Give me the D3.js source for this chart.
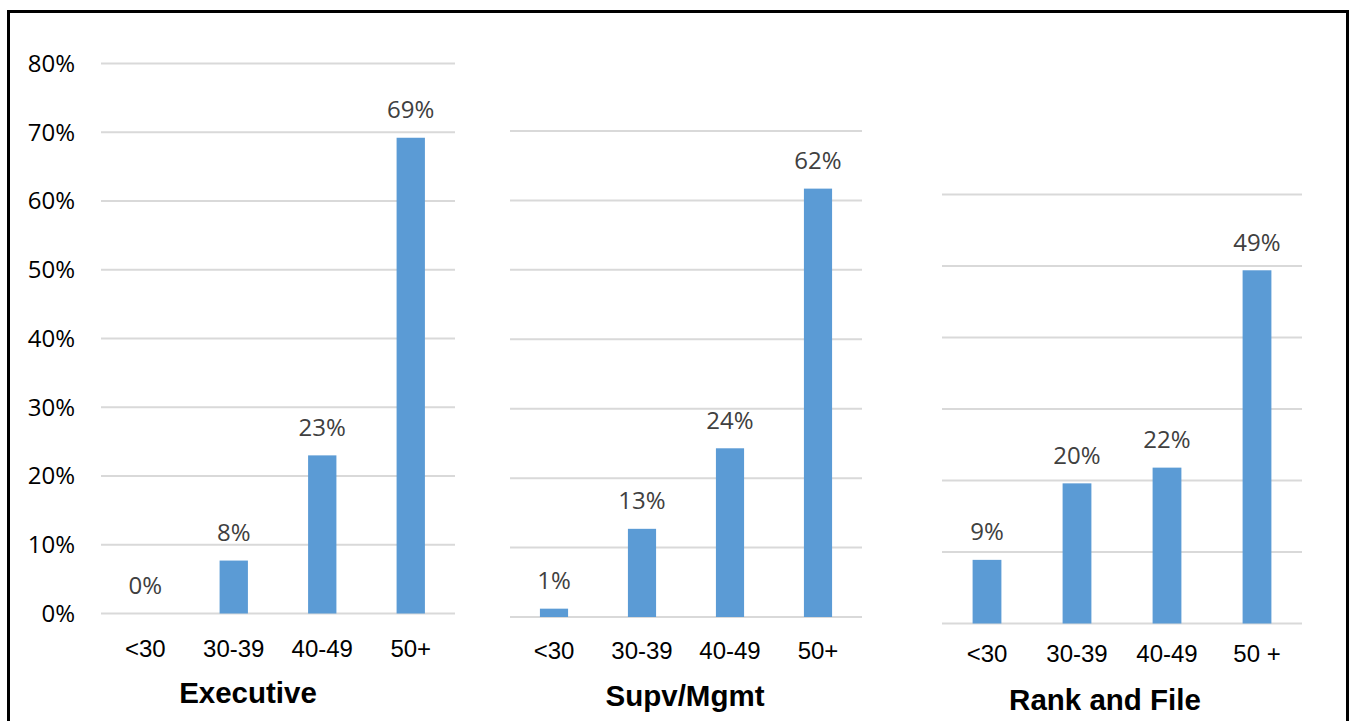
<!DOCTYPE html>
<meta charset="utf-8">
<style>
body { margin: 0; background: #fff; }
.grid line { stroke: #d9d9d9; stroke-width: 2px; }
.bar { fill: #5b9bd5; }
.val { fill: #404040; font-family: "Open Sans", sans-serif; font-size: 24px; }
.ytick { fill: #000; font-family: "Open Sans", sans-serif; font-size: 24px; }
.cat { fill: #000; font-family: "Liberation Sans", Arial, sans-serif; font-size: 24px; }
.title { fill: #000; font-family: "Liberation Sans", Arial, sans-serif; font-size: 29.5px; font-weight: bold; }
</style>
<svg width="1350" height="721"></svg>
<script src="https://d3js.org/d3.v7.min.js"></script>
<script>
var svg = d3.select("svg");

// data
var titles = ["Executive", "Supv/Mgmt", "Rank and File"];
var categories = [
  ["<30", "30-39", "40-49", "50+"],
  ["<30", "30-39", "40-49", "50+"],
  ["<30", "30-39", "40-49", "50 +"]
];
var executive = [0.000, 0.077, 0.230, 0.692];
var supvMgmt  = [0.012, 0.127, 0.243, 0.617];
var rankFile  = [0.089, 0.196, 0.218, 0.494];
var yMax = [0.8, 0.7, 0.6];
var yTicks = ["0%", "10%", "20%", "30%", "40%", "50%", "60%", "70%", "80%"];

var series = [executive, supvMgmt, rankFile];

// layout of each panel (plot area)
var panels = [
  { x0: 101, x1: 455, top: 63.5,  base: 613.5, titleX: 248, catDy: 35, titleDy: 79 },
  { x0: 510, x1: 862, top: 131,   base: 617,   titleX: 685, catDy: 34, titleDy: 79 },
  { x0: 942, x1: 1302, top: 194.5, base: 623.5, titleX: 1105, catDy: 30, titleDy: 76 }
];

var fmt = d3.format(".0%");

// outer frame
svg.append("rect")
  .attr("x", 8.5).attr("y", 11.5)
  .attr("width", 1339).attr("height", 730)
  .attr("fill", "none")
  .attr("stroke", "#000")
  .attr("stroke-width", 3);

panels.forEach(function(p, i) {
  var g = svg.append("g");
  var x = d3.scaleBand()
      .domain(categories[i])
      .range([p.x0, p.x1])
      .paddingInner(0.68)
      .paddingOuter(0.34);
  var y = d3.scaleLinear()
      .domain([0, yMax[i]])
      .range([p.base, p.top]);
  var ticks = d3.range(0, Math.round(yMax[i] * 10) + 1).map(function(k) { return k / 10; });

  // gridlines
  g.append("g").attr("class", "grid")
    .selectAll("line")
    .data(ticks)
    .enter().append("line")
      .attr("x1", p.x0).attr("x2", p.x1)
      .attr("y1", function(d) { return y(d); })
      .attr("y2", function(d) { return y(d); });

  // y tick labels only on the first panel
  if (i === 0) {
    g.selectAll(".ytick")
      .data(ticks)
      .enter().append("text")
        .attr("class", "ytick")
        .attr("x", 75)
        .attr("y", function(d) { return y(d); })
        .attr("dy", "0.35em")
        .attr("text-anchor", "end")
        .text(function(d, k) { return yTicks[k]; });
  }

  var data = series[i].map(function(v, k) { return { cat: categories[i][k], v: v }; });

  g.selectAll(".bar")
    .data(data)
    .enter().append("rect")
      .attr("class", "bar")
      .attr("x", function(d) { return x(d.cat); })
      .attr("width", x.bandwidth())
      .attr("y", function(d) { return y(d.v); })
      .attr("height", function(d) { return y(0) - y(d.v); });

  g.selectAll(".val")
    .data(data)
    .enter().append("text")
      .attr("class", "val")
      .attr("x", function(d) { return x(d.cat) + x.bandwidth() / 2; })
      .attr("y", function(d) { return y(d.v) - 28; })
      .attr("dy", "0.35em")
      .attr("text-anchor", "middle")
      .text(function(d) { return fmt(d.v); });

  g.selectAll(".cat")
    .data(categories[i])
    .enter().append("text")
      .attr("class", "cat")
      .attr("x", function(d) { return x(d) + x.bandwidth() / 2; })
      .attr("y", p.base + p.catDy)
      .attr("dy", "0.35em")
      .attr("text-anchor", "middle")
      .text(function(d) { return d; });

  g.append("text")
    .attr("class", "title")
    .attr("x", p.titleX)
    .attr("y", p.base + p.titleDy)
    .attr("dy", "0.35em")
    .attr("text-anchor", "middle")
    .text(titles[i]);
});
</script>
